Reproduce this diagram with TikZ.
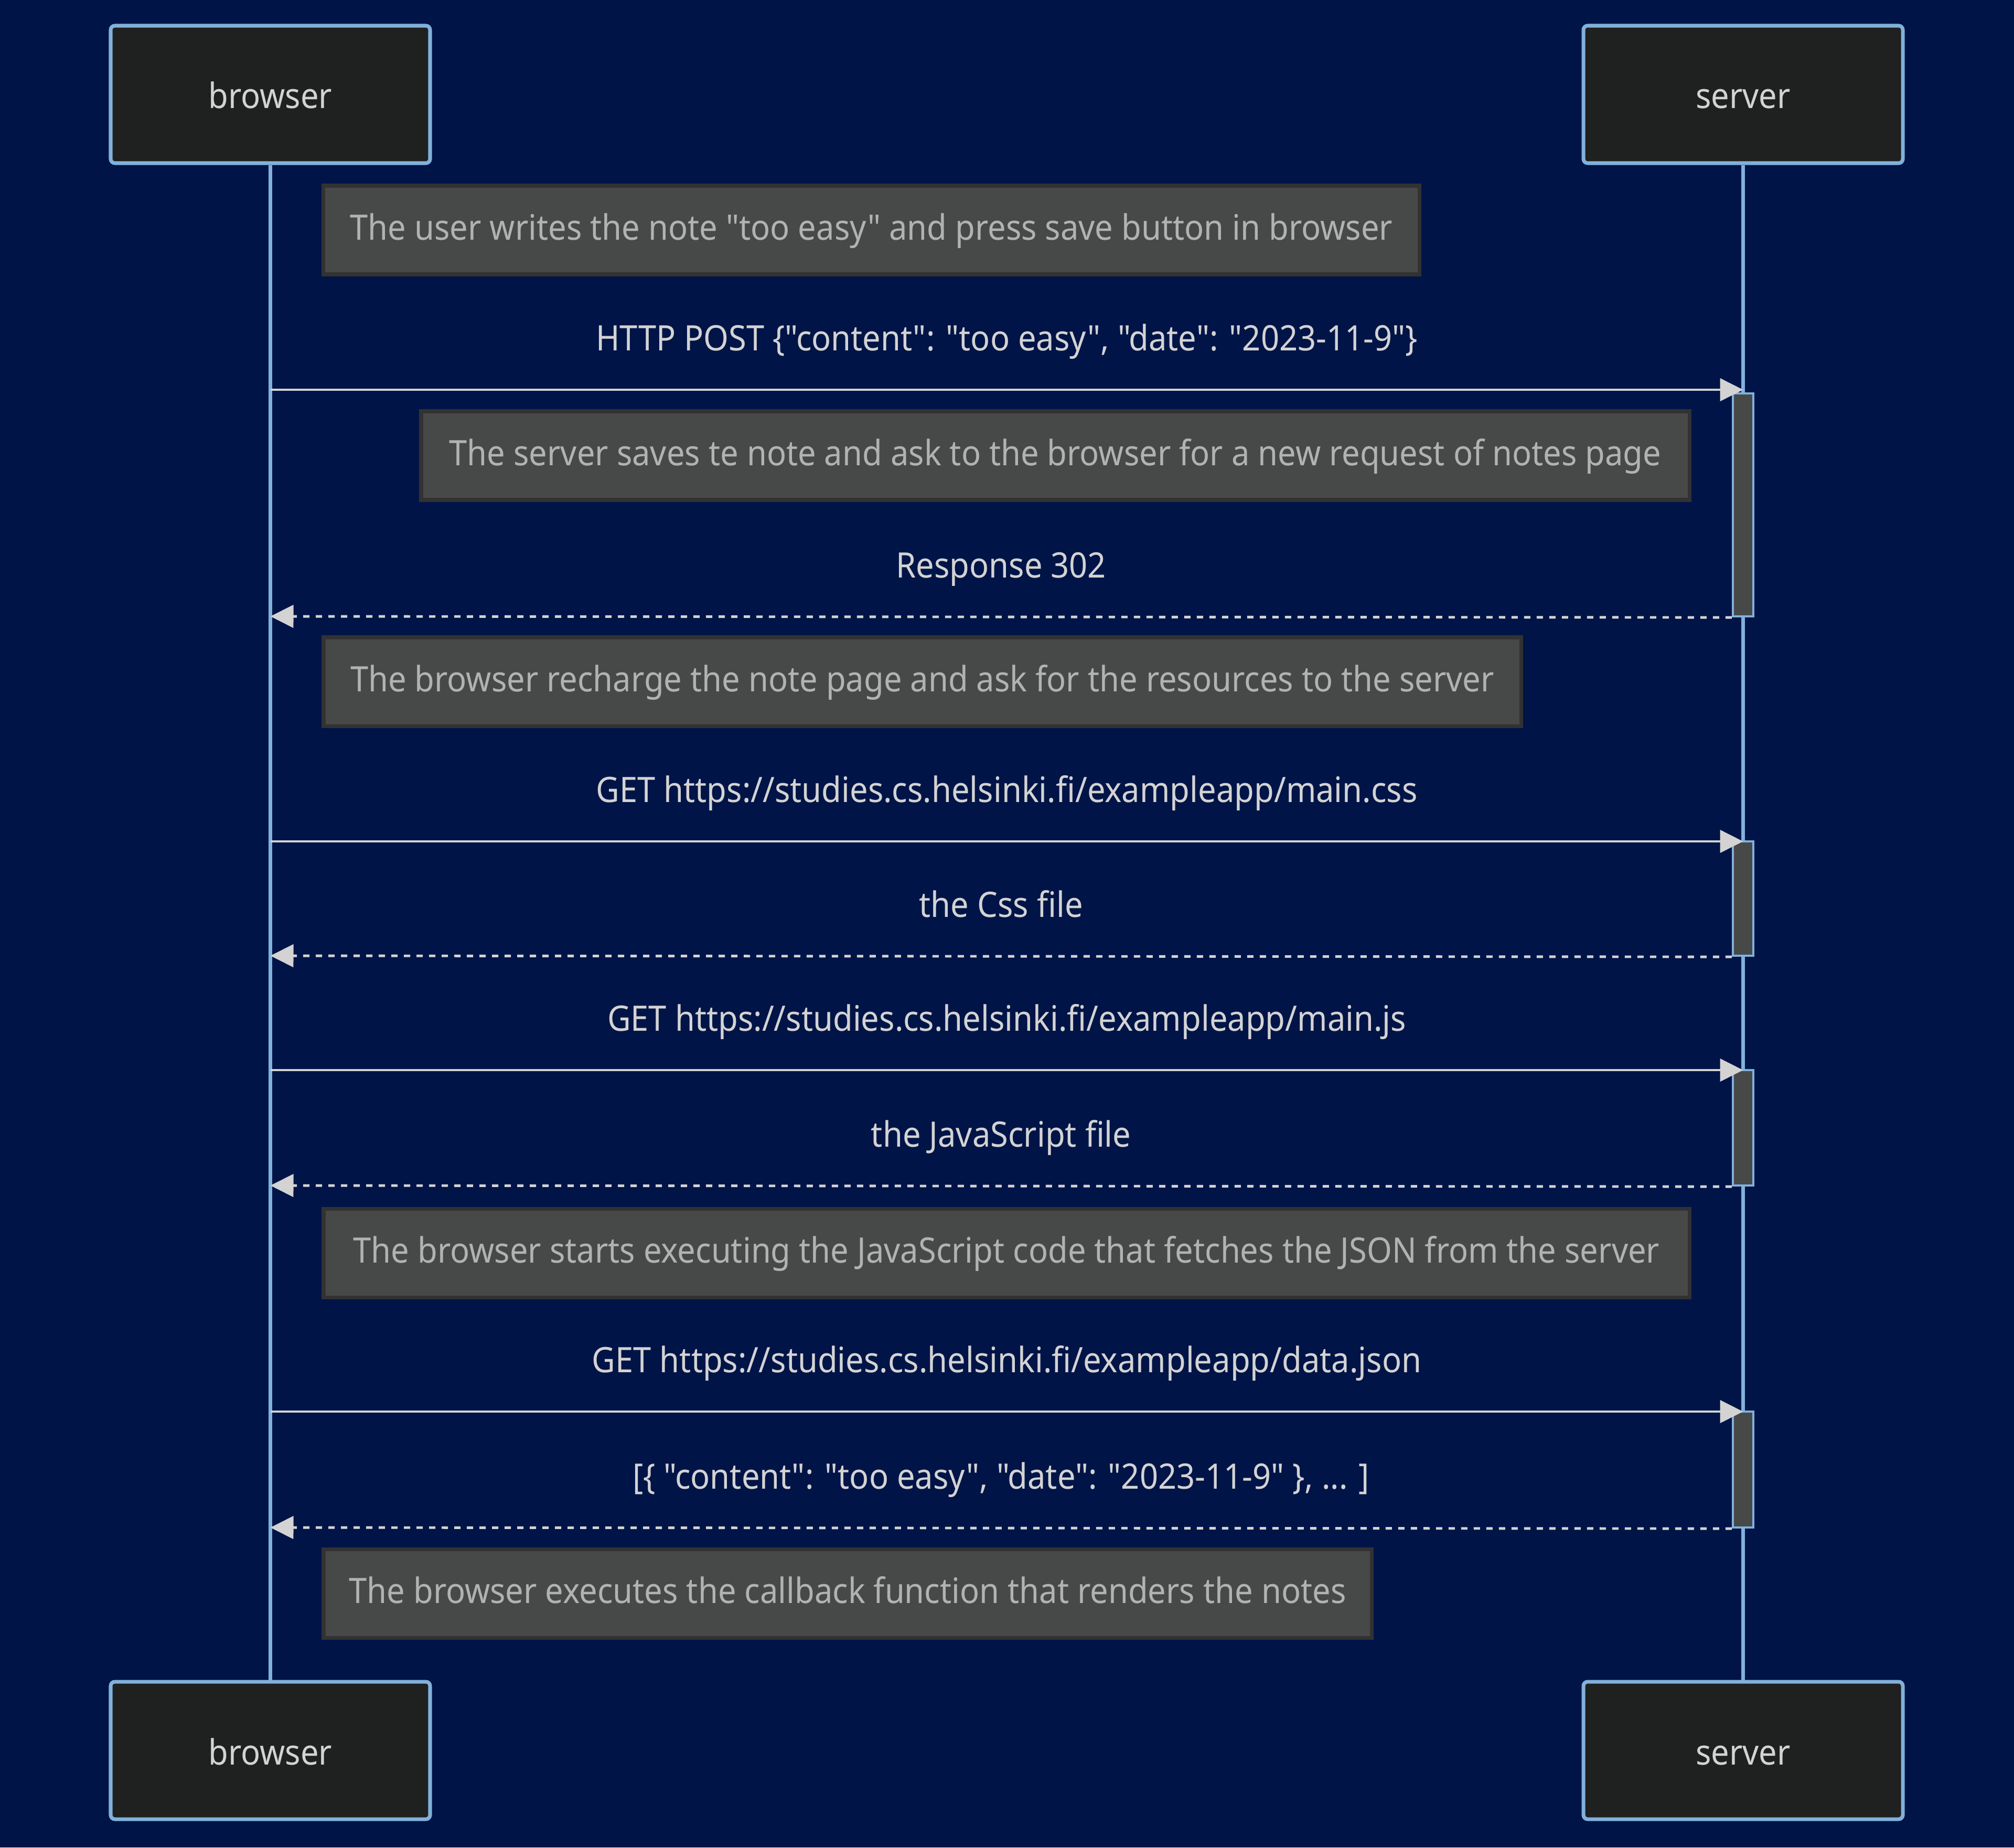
\documentclass[tikz,border=0pt]{standalone}
\usepackage{fontspec}
\setmainfont{Noto Sans}[Ligatures=TeXOff, FakeStretch=0.92]
\usetikzlibrary{arrows.meta}
\definecolor{bgblue}{HTML}{001447}
\definecolor{lifeblue}{HTML}{81B1DB}
\definecolor{actorfill}{HTML}{1F2020}
\definecolor{actortext}{HTML}{D3D3D3}
\definecolor{notefill}{HTML}{474949}
\definecolor{noteline}{HTML}{323232}
\definecolor{notetext}{HTML}{B2B2B2}
\definecolor{arrowgray}{HTML}{D3D3D3}
\definecolor{msgtext}{HTML}{D3D3D3}

\begin{document}
\begin{tikzpicture}[
  actor/.style={draw=lifeblue, line width=2pt, rounded corners=0.08cm,
                fill=actorfill, text=actortext,
                minimum width=6.09cm, minimum height=2.62cm,
                text height=0.55cm, text depth=0.01cm},
  note/.style={draw=noteline, line width=2pt, fill=notefill, text=notetext,
               minimum height=1.69cm, inner sep=0pt,
               text height=0.55cm, text depth=0.17cm},
  act/.style={draw=lifeblue, line width=1.2pt, fill=notefill,
              minimum width=0.39cm, inner sep=0pt},
  life/.style={lifeblue, line width=2.1pt},
  msg/.style={arrowgray, line width=1.4pt,
              -{Triangle[length=0.44cm, width=0.43cm]}},
  reply/.style={msg, dash pattern=on 0.12cm off 0.12cm},
  lbl/.style={text=msgtext, anchor=base, yshift=0.75cm},
  font=\fontsize{19}{23}\selectfont,
]

% ---- Canvas ------------------------------------------------------------
\fill[bgblue] (0, 0) rectangle (38.4, -35.22);
\useasboundingbox (0, 0) rectangle (38.4, -35.22);

% ---- Participants ------------------------------------------------------
\node[actor] (brTop) at (5.155, -1.80) {browser};
\node[actor] (svTop) at (33.235, -1.80) {server};
\node[actor] (brBot) at (5.155, -33.37) {browser};
\node[actor] (svBot) at (33.235, -33.37) {server};

\draw[life] (brTop.south) -- (brBot.north);
\draw[life] (svTop.south) -- (svBot.north);

% ---- Activations on the server ----------------------------------------
\node[act, minimum height=4.25cm] (act1) at (33.235, -9.625) {};
\node[act, minimum height=2.18cm] (act2) at (33.235, -17.13) {};
\node[act, minimum height=2.20cm] (act3) at (33.235, -21.50) {};
\node[act, minimum height=2.21cm] (act4) at (33.235, -28.015) {};

% ---- Points on the lifelines -------------------------------------------
\coordinate (b1) at (5.155, -7.43);   \coordinate (s1) at (33.235, -7.43);
\coordinate (b2) at (5.155, -11.75);
\coordinate (b3) at (5.155, -16.04);  \coordinate (s3) at (33.235, -16.04);
\coordinate (b4) at (5.155, -18.22);
\coordinate (b5) at (5.155, -20.40);  \coordinate (s5) at (33.235, -20.40);
\coordinate (b6) at (5.155, -22.60);
\coordinate (b7) at (5.155, -26.91);  \coordinate (s7) at (33.235, -26.91);
\coordinate (b8) at (5.155, -29.12);

% ---- Notes ---------------------------------------------------------------
\node[note, minimum width=20.90cm] (note1) at (16.615, -4.385)
  {The user writes the note "too easy" and press save button in browser};
\node[note, minimum width=24.18cm] (note2) at (20.12, -8.685)
  {The server saves te note and ask to the browser for a new request of notes page};
\node[note, minimum width=22.83cm] (note3) at (17.585, -12.995)
  {The browser recharge the note page and ask for the resources to the server};
\node[note, minimum width=26.04cm] (note4) at (19.19, -23.885)
  {The browser starts executing the JavaScript code that fetches the JSON from the server};
\node[note, minimum width=19.98cm] (note5) at (16.16, -30.375)
  {The browser executes the callback function that renders the notes};

% ---- Messages --------------------------------------------------------------
\draw[msg] (b1) -- (s1)
  node[midway, lbl] {HTTP POST \{"content": "too easy", "date": "2023-11-9"\}};
\draw[reply] (act1.south west) -- (b2)
  node[midway, lbl] {Response 302};

\draw[msg] (b3) -- (s3)
  node[midway, lbl] {GET https://studies.cs.helsinki.fi/exampleapp/main.css};
\draw[reply] (act2.south west) -- (b4)
  node[midway, lbl] {the Css file};

\draw[msg] (b5) -- (s5)
  node[midway, lbl] {GET https://studies.cs.helsinki.fi/exampleapp/main.js};
\draw[reply] (act3.south west) -- (b6)
  node[midway, lbl] {the JavaScript file};

\draw[msg] (b7) -- (s7)
  node[midway, lbl] {GET https://studies.cs.helsinki.fi/exampleapp/data.json};
\draw[reply] (act4.south west) -- (b8)
  node[midway, lbl] {[\{ "content": "too easy", "date": "2023-11-9" \}, ... ]};

\end{tikzpicture}
\end{document}
